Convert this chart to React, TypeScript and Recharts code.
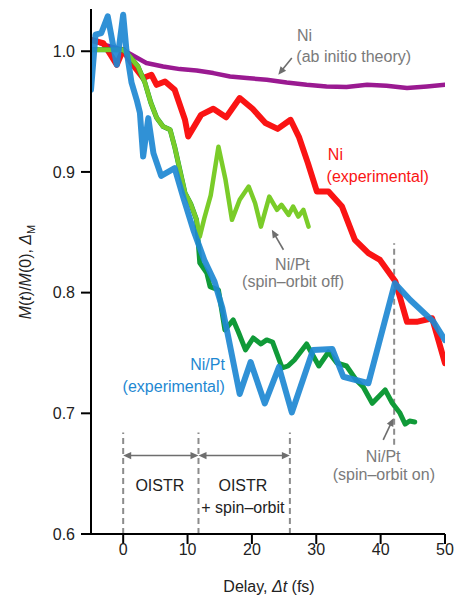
import React from 'react';
import { LineChart, Line, XAxis, YAxis, ReferenceLine, ReferenceDot } from 'recharts';

const FONT = '"Liberation Sans", Arial, Helvetica, sans-serif';

// Ni (ab initio theory)
const theoryX = [-5, -3, 0, 1.8, 3.6, 6.2, 8.8, 11.4, 14, 16.6, 19.2, 22.3, 25.4, 28.5, 31.6, 34.7, 37.9, 40.9, 44.1, 47.2, 50];
const theoryY = [1.0095, 1.0054, 1.001, 0.9957, 0.9902, 0.9874, 0.9852, 0.9841, 0.9819, 0.9791, 0.9778, 0.9764, 0.9741, 0.9722, 0.9708, 0.9703, 0.9722, 0.9714, 0.9695, 0.9708, 0.9722];

// Ni (experimental)
const niExpX = [-5, -3.1, -1.0, 0, 1.3, 3.1, 4.4, 5.2, 6.5, 8.0, 9.6, 10.1, 12.1, 14.0, 16.0, 18.1, 20.1, 22.1, 24.0, 26.0, 27.3, 28.7, 30.1, 31.9, 34.0, 36.0, 38.1, 39.9, 42.3, 44.1, 45.6, 48.0, 50];
const niExpY = [1.0095, 1.0068, 0.9888, 1.0012, 0.9902, 0.9778, 0.9805, 0.9722, 0.975, 0.9681, 0.9432, 0.9294, 0.9473, 0.9523, 0.9453, 0.9612, 0.9523, 0.9405, 0.9357, 0.9432, 0.9291, 0.9073, 0.8837, 0.8837, 0.8713, 0.8437, 0.8327, 0.8271, 0.8092, 0.7758, 0.7758, 0.7788, 0.7415];

// Ni/Pt (experimental)
const niPtExpX = [-5, -4.3, -3.4, -2.4, -1.0, 0, 0.5, 1.3, 2.1, 2.6, 3.1, 3.9, 4.7, 5.9, 8.0, 9.3, 10.9, 12.6, 14.2, 15.4, 16.2, 18.1, 19.8, 22.0, 24.2, 26.2, 29.5, 32.5, 34.2, 38.1, 42.2, 44.6, 48.2, 50];
const niPtExpY = [0.9681, 1.0137, 1.0151, 1.0289, 0.9888, 1.0303, 1.0012, 0.9739, 0.9598, 0.949, 0.9128, 0.9446, 0.9156, 0.8968, 0.9031, 0.8796, 0.852, 0.8271, 0.8089, 0.7873, 0.7666, 0.716, 0.7425, 0.7081, 0.7384, 0.7007, 0.7525, 0.7533, 0.7303, 0.7249, 0.8078, 0.7939, 0.776, 0.7607];

// Ni/Pt (spin-orbit off)
const soOffX = [-5, 0, 0.8, 2.3, 3.4, 4.3, 5.2, 6.2, 7.3, 8.0, 8.8, 9.6, 10.5, 11.4, 11.9, 12.6, 13.6, 14.8, 15.9, 16.9, 18.1, 19.5, 20.5, 21.4, 22.7, 23.9, 24.6, 25.7, 26.4, 27.2, 28.0, 28.8];
const soOffY = [1.0012, 1.0012, 0.9971, 0.9874, 0.9736, 0.9573, 0.9449, 0.9376, 0.9349, 0.9208, 0.9017, 0.8827, 0.8735, 0.8603, 0.8464, 0.8615, 0.8805, 0.9208, 0.8935, 0.8603, 0.8769, 0.8879, 0.8741, 0.8547, 0.8796, 0.8686, 0.8727, 0.8644, 0.8713, 0.863, 0.8686, 0.8547];

// Ni/Pt (spin-orbit on)
const soOnX = [-5, 0, 0.8, 2.3, 3.4, 4.3, 5.2, 6.2, 7.3, 8.0, 8.8, 9.6, 10.5, 11.4, 11.9, 13.0, 13.5, 14.8, 15.3, 15.8, 17.1, 17.9, 19.0, 20.2, 21.4, 22.3, 23.2, 24.7, 25.6, 26.6, 28.5, 30.4, 31.9, 33.2, 34.7, 36.2, 37.3, 38.7, 40.7, 41.8, 43.0, 43.8, 44.5, 45.3];
const soOnY = [1.0012, 1.0012, 0.9971, 0.9874, 0.9736, 0.9573, 0.9449, 0.9376, 0.9349, 0.9208, 0.9017, 0.8827, 0.8735, 0.8603, 0.8246, 0.8161, 0.805, 0.8022, 0.7857, 0.7691, 0.7774, 0.7674, 0.7525, 0.7624, 0.7575, 0.7608, 0.7591, 0.7376, 0.7392, 0.7442, 0.7575, 0.7392, 0.7508, 0.7417, 0.7392, 0.7276, 0.7218, 0.7083, 0.7194, 0.7085, 0.7002, 0.6911, 0.6936, 0.6928];

const xTicks = [0, 10, 20, 30, 40, 50];
const yTicks = [0.6, 0.7, 0.8, 0.9, 1.0];

const toPts = (xs: number[], ys: number[]) => xs.map((x, i) => ({ x, y: ys[i] }));

const theoryData = toPts(theoryX, theoryY);
const niExpData = toPts(niExpX, niExpY);
const niPtExpData = toPts(niPtExpX, niPtExpY);
const soOffData = toPts(soOffX, soOffY);
const soOnData = toPts(soOnX, soOnY);

const C_PURPLE = '#9a1a91';
const C_RED = '#fa1414';
const C_BLUE = '#1e88d2';
const C_LGREEN = '#7acc29';
const C_DGREEN = '#109a38';
const C_GRAY = '#7a7a7a';
const C_ARROW = '#6e6e6e';
const C_DASH = '#8c8c8c';

type Note = { x: number; y: number; text: string; anchor: 'start' | 'middle' | 'end'; color: string };
const notes: Note[] = [
  { x: 27.0, y: 1.0088, text: 'Ni', anchor: 'start', color: C_GRAY },
  { x: 26.9, y: 0.991, text: '(ab initio theory)', anchor: 'start', color: C_GRAY },
  { x: 31.8, y: 0.9097, text: 'Ni', anchor: 'start', color: C_RED },
  { x: 31.6, y: 0.8919, text: '(experimental)', anchor: 'start', color: C_RED },
  { x: 26.3, y: 0.8185, text: 'Ni/Pt', anchor: 'middle', color: C_GRAY },
  { x: 26.4, y: 0.8048, text: '(spin–orbit off)', anchor: 'middle', color: C_GRAY },
  { x: 15.8, y: 0.7356, text: 'Ni/Pt', anchor: 'end', color: C_BLUE },
  { x: 15.8, y: 0.7177, text: '(experimental)', anchor: 'end', color: C_BLUE },
  { x: 40.4, y: 0.6597, text: 'Ni/Pt', anchor: 'middle', color: C_GRAY },
  { x: 40.5, y: 0.6444, text: '(spin–orbit on)', anchor: 'middle', color: C_GRAY },
  { x: 5.7, y: 0.636, text: 'OISTR', anchor: 'middle', color: '#222' },
  { x: 18.6, y: 0.636, text: 'OISTR', anchor: 'middle', color: '#222' },
  { x: 18.6, y: 0.617, text: '+ spin–orbit', anchor: 'middle', color: '#222' },
];

type Arrow = { x1: number; y1: number; x2: number; y2: number; start: boolean; end: boolean };
const arrows: Arrow[] = [
  { x1: 26.2, y1: 0.9944, x2: 24.1, y2: 0.9806, start: false, end: true },
  { x1: 24.9, y1: 0.8355, x2: 23.1, y2: 0.852, start: false, end: true },
  { x1: 40.4, y1: 0.678, x2: 42.0, y2: 0.696, start: false, end: true },
  { x1: 0, y1: 0.665, x2: 11.7, y2: 0.665, start: true, end: true },
  { x1: 11.7, y1: 0.665, x2: 25.9, y2: 0.665, start: true, end: true },
];

type Dash = { x: number; y1: number; y2: number };
const dashes: Dash[] = [
  { x: 0, y1: 0.6, y2: 0.684 },
  { x: 11.7, y1: 0.6, y2: 0.684 },
  { x: 25.9, y1: 0.6, y2: 0.684 },
  { x: 42.1, y1: 0.674, y2: 0.841 },
];

function arrowShape(start: boolean, end: boolean) {
  return (p: any) => {
    const x1 = Number(p.x1), y1 = Number(p.y1), x2 = Number(p.x2), y2 = Number(p.y2);
    const dx = x2 - x1, dy = y2 - y1;
    const len = Math.hypot(dx, dy) || 1;
    const ux = dx / len, uy = dy / len;
    const L = 8, W = 3.6;
    const head = (tx: number, ty: number, dxn: number, dyn: number) => {
      const bx = tx - dxn * L, by = ty - dyn * L;
      return `${tx},${ty} ${bx - dyn * W},${by + dxn * W} ${bx + dyn * W},${by - dxn * W}`;
    };
    const sx = start ? x1 + ux * (L - 1) : x1;
    const sy = start ? y1 + uy * (L - 1) : y1;
    const ex = end ? x2 - ux * (L - 1) : x2;
    const ey = end ? y2 - uy * (L - 1) : y2;
    return (
      <g>
        <line x1={sx} y1={sy} x2={ex} y2={ey} stroke={C_ARROW} strokeWidth={1.6} />
        {end && <polygon points={head(x2, y2, ux, uy)} fill={C_ARROW} />}
        {start && <polygon points={head(x1, y1, -ux, -uy)} fill={C_ARROW} />}
      </g>
    );
  };
}

function noteShape(n: Note) {
  return (p: any) => (
    <text x={p.cx} y={p.cy} textAnchor={n.anchor} fill={n.color} fontSize={16} fontFamily={FONT}>
      {n.text}
    </text>
  );
}

export default function App() {
  return (
    <div style={{ position: 'relative', width: 454, height: 599, fontFamily: FONT, background: '#fff' }}>
      <style>{'html,body{margin:0;padding:0;overflow:hidden;}'}</style>
      <LineChart width={454} height={599} margin={{ top: 9, right: 9, left: 0, bottom: 0 }}>
        <XAxis
          dataKey="x"
          type="number"
          domain={[-5, 50]}
          ticks={xTicks}
          allowDataOverflow
          height={65}
          tickSize={10}
          tickMargin={0}
          axisLine={{ stroke: '#000', strokeWidth: 2 }}
          tickLine={{ stroke: '#000', strokeWidth: 2 }}
          tick={{ fontSize: 16, fill: '#222', fontFamily: FONT }}
        />
        <YAxis
          dataKey="y"
          type="number"
          domain={[0.6, 1.035]}
          ticks={yTicks}
          allowDataOverflow
          width={91}
          tickSize={10}
          tickMargin={6}
          tickFormatter={(v: number) => v.toFixed(1)}
          axisLine={{ stroke: '#000', strokeWidth: 2 }}
          tickLine={{ stroke: '#000', strokeWidth: 2 }}
          tick={{ fontSize: 16, fill: '#222', fontFamily: FONT }}
        />
        {dashes.map((d, i) => (
          <ReferenceLine
            key={'d' + i}
            segment={[{ x: d.x, y: d.y1 }, { x: d.x, y: d.y2 }]}
            stroke={C_DASH}
            strokeWidth={2}
            strokeDasharray="6 4"
            ifOverflow="visible"
          />
        ))}
        <Line data={theoryData} dataKey="y" type="linear" stroke={C_PURPLE} strokeWidth={4.5} dot={false} isAnimationActive={false} strokeLinejoin="round" strokeLinecap="round" />
        <Line data={niExpData} dataKey="y" type="linear" stroke={C_RED} strokeWidth={6} dot={false} isAnimationActive={false} strokeLinejoin="round" strokeLinecap="round" />
        <Line data={soOnData} dataKey="y" type="linear" stroke={C_DGREEN} strokeWidth={5} dot={false} isAnimationActive={false} strokeLinejoin="round" strokeLinecap="round" />
        <Line data={soOffData} dataKey="y" type="linear" stroke={C_LGREEN} strokeWidth={4.5} dot={false} isAnimationActive={false} strokeLinejoin="round" strokeLinecap="round" />
        <Line data={niPtExpData} dataKey="y" type="linear" stroke={C_BLUE} strokeOpacity={0.92} strokeWidth={6} dot={false} isAnimationActive={false} strokeLinejoin="round" strokeLinecap="round" />
        {arrows.map((a, i) => (
          <ReferenceLine
            key={'a' + i}
            segment={[{ x: a.x1, y: a.y1 }, { x: a.x2, y: a.y2 }]}
            ifOverflow="visible"
            shape={arrowShape(a.start, a.end)}
          />
        ))}
        {notes.map((n, i) => (
          <ReferenceDot
            key={'n' + i}
            x={n.x}
            y={n.y}
            r={0}
            ifOverflow="visible"
            shape={noteShape(n)}
          />
        ))}
      </LineChart>
      <svg width={454} height={599} style={{ position: 'absolute', left: 0, top: 0, pointerEvents: 'none' }}>
        <text x={269} y={592} textAnchor="middle" fontSize={16} fill="#222" fontFamily={FONT}>
          Delay, <tspan fontStyle="italic">Δt</tspan> (fs)
        </text>
        <text
          transform="translate(25,272) rotate(-90)"
          textAnchor="middle"
          dy="0.35em"
          fontSize={16}
          fill="#222"
          fontFamily={FONT}
        >
          <tspan fontStyle="italic">M</tspan>(<tspan fontStyle="italic">t</tspan>)/<tspan fontStyle="italic">M</tspan>(0),{' '}
          <tspan fontStyle="italic">Δ</tspan>
          <tspan fontSize={11} dy={4}>M</tspan>
        </text>
      </svg>
    </div>
  );
}
